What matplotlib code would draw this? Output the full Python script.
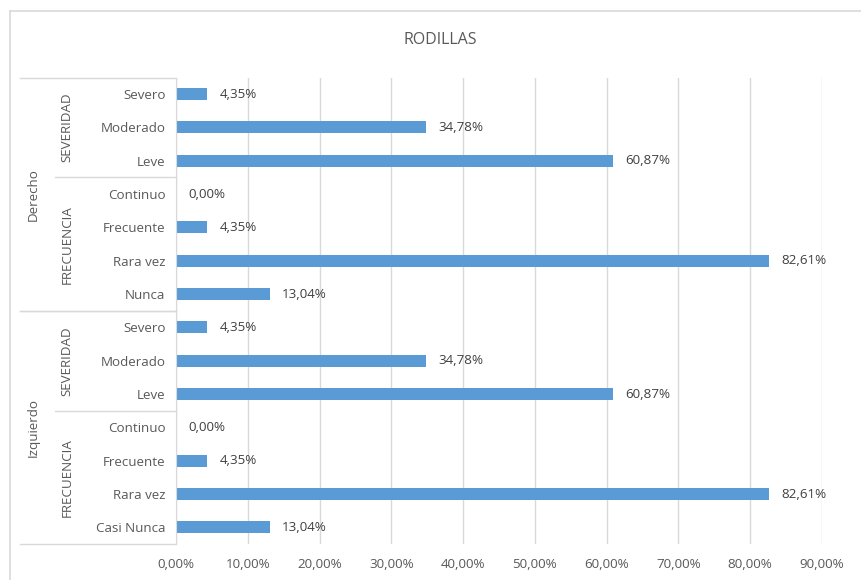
import matplotlib
matplotlib.use("Agg")
import matplotlib.pyplot as plt
from matplotlib.lines import Line2D
from matplotlib.transforms import blended_transform_factory

plt.rcParams['font.family'] = ['Open Sans', 'DejaVu Sans']

# Data (top to bottom)
sides = ["Derecho", "Izquierdo"]
groups = ["SEVERIDAD", "FRECUENCIA"]
severidad_cats = ["Severo", "Moderado", "Leve"]
frecuencia_der = ["Continuo", "Frecuente", "Rara vez", "Nunca"]
frecuencia_izq = ["Continuo", "Frecuente", "Rara vez", "Casi Nunca"]
severidad_der_vals = [4.35, 34.78, 60.87]
frecuencia_der_vals = [0.00, 4.35, 82.61, 13.04]
severidad_izq_vals = [4.35, 34.78, 60.87]
frecuencia_izq_vals = [0.00, 4.35, 82.61, 13.04]
x_ticks = [0, 10, 20, 30, 40, 50, 60, 70, 80, 90]

labels = severidad_cats + frecuencia_der + severidad_cats + frecuencia_izq
values = severidad_der_vals + frecuencia_der_vals + severidad_izq_vals + frecuencia_izq_vals
ypos = list(range(len(labels)))

BAR = "#5B9BD5"
GRID = "#D9D9D9"
TXT = "#595959"
FS = 9.6

W, H = 862, 580
fig = plt.figure(figsize=(W / 100, H / 100), dpi=100)

left, right, top, bottom = 176, 822, 77.5, 544
ax = fig.add_axes([left / W, 1 - bottom / H, (right - left) / W, (bottom - top) / H])

ax.barh(ypos, values, height=0.36, color=BAR, zorder=3)
ax.set_xlim(0, 90)
ax.set_ylim(len(labels) - 0.5, -0.5)

ax.set_xticks(x_ticks)
ax.set_xticklabels([f"{t:.2f}%".replace(".", ",") for t in x_ticks])
ax.set_yticks(ypos)
ax.set_yticklabels(labels)
ax.tick_params(axis="both", length=0, labelsize=FS, labelcolor=TXT)
ax.tick_params(axis="x", pad=10)
ax.tick_params(axis="y", pad=7.5)
ax.grid(axis="x", color=GRID, linewidth=1, zorder=0)
for s in ["top", "right", "bottom"]:
    ax.spines[s].set_visible(False)
ax.spines["left"].set_color(GRID)
ax.spines["left"].set_zorder(4)

# Value labels
for y, v in zip(ypos, values):
    ax.annotate(f"{v:.2f}%".replace(".", ","), (v, y), xytext=(9, 0),
                textcoords="offset points", va="center", ha="left",
                fontsize=FS, color="#404040")

# Multi-level category axis
tr = blended_transform_factory(fig.transFigure, ax.transData)
x_side_line = 20 / W
x_group_line = 55 / W
x_axis = left / W
side_bounds = [(-0.5, 6.5), (6.5, 13.5)]
group_bounds = [[(-0.5, 2.5), (2.5, 6.5)], [(6.5, 9.5), (9.5, 13.5)]]
for (y0, y1) in side_bounds:
    for yy in (y0, y1):
        fig.add_artist(Line2D([x_side_line, x_axis], [yy, yy], transform=tr,
                              color=GRID, linewidth=1))
for side, (y0, y1), gb in zip(sides, side_bounds, group_bounds):
    fig.text(33 / W, (y0 + y1) / 2, side, transform=tr, rotation=90,
             ha="center", va="center", fontsize=FS, color=TXT)
    for (g0, g1), gname in zip(gb, groups):
        fig.text(67 / W, (g0 + g1) / 2, gname, transform=tr, rotation=90,
                 ha="center", va="center", fontsize=FS, color=TXT)
    # separator between the two subgroups
    ym = gb[0][1]
    fig.add_artist(Line2D([x_group_line, x_axis], [ym, ym], transform=tr,
                          color=GRID, linewidth=1))

fig.text(440 / W, 1 - 40 / H, "RODILLAS", ha="center", va="center",
         fontsize=11.5, color=TXT)

# Chart frame
fig.add_artist(Line2D([10 / W, 1], [1 - 11 / H, 1 - 11 / H], transform=fig.transFigure,
                      color=GRID, linewidth=1.2))
fig.add_artist(Line2D([10 / W, 10 / W], [0, 1 - 11 / H], transform=fig.transFigure,
                      color=GRID, linewidth=1.2))

fig.savefig("out.png", dpi=100, facecolor="white")
